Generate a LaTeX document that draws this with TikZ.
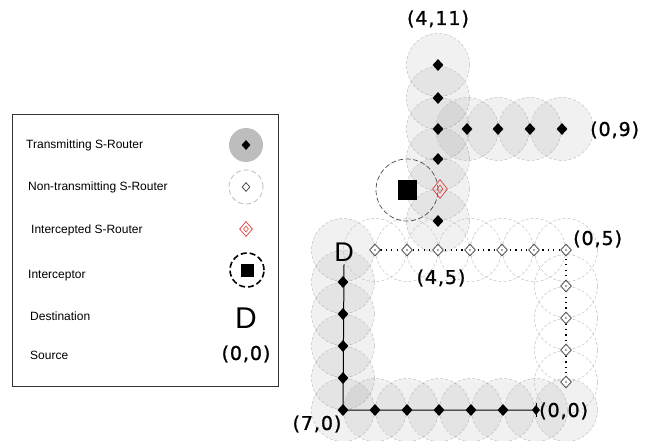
\documentclass[tikz,border=0pt]{standalone}
\usepackage{fontspec}
\setmainfont{Liberation Sans}
\newfontfamily\coordfont[LetterSpace=5,FakeBold=1.2]{DejaVu Sans}
\usetikzlibrary{shapes.geometric}

\definecolor{ringgray}{HTML}{C2C2C2}
\definecolor{interred}{HTML}{E03C3C}
\definecolor{legendgray}{HTML}{BDBDBD}

\pgfdeclarelayer{rings}
\pgfdeclarelayer{links}
\pgfsetlayers{rings,links,main}

\tikzset{
  cover/.style={circle, minimum size=63pt, inner sep=0pt, draw=ringgray,
    dash pattern=on 3pt off 2pt, line width=0.5pt},
  txcover/.style={cover, fill=black, fill opacity=0.055},
  idlecover/.style={cover},
  txrouter/.style={diamond, fill=black, inner sep=0pt, minimum width=11pt, minimum height=12pt},
  idlerouter/.style={diamond, draw=black!70, fill=white, line width=0.8pt, inner sep=0pt,
    minimum width=11pt, minimum height=12pt,
    path picture={\fill[black!70] (path picture bounding box.center) circle (0.8pt);}},
  hitrouter/.style={diamond, draw=interred, line width=0.7pt, inner sep=0pt,
    minimum width=15pt, minimum height=19pt},
  hitcore/.style={diamond, draw=interred, line width=0.6pt, inner sep=0pt,
    minimum width=6pt, minimum height=8pt},
  coordlabel/.style={font=\coordfont\fontsize{19}{21}\selectfont, inner sep=0pt},
  legendtext/.style={font=\fontsize{12}{14}\selectfont, anchor=west, inner sep=0pt},
  solidlink/.style={black, line width=1pt},
  dottedlink/.style={black, line width=1.2pt, dash pattern=on 1.2pt off 4.2pt}
}

\begin{document}
\begin{tikzpicture}[x=1pt,y=-1pt]
\useasboundingbox (0,0) rectangle (658,441);

% ---------- coverage rings ----------
\begin{pgfonlayer}{rings}
  % branch towards (4,11) and (0,9)
  \foreach \yy [count=\i] in {65,98,129,159,189,221}
    \node[txcover] (ra\i) at (438,\yy) {};
  \foreach \xx [count=\i] in {467,498,530,562}
    \node[txcover] (rb\i) at (\xx,129) {};
  % column through D and the bottom row
  \foreach \yy [count=\i] in {250,282,314,346,378,410}
    \node[txcover] (rc\i) at (343,\yy) {};
  \foreach \xx [count=\i] in {375,407,439,471,503,536,566}
    \node[txcover] (rd\i) at (\xx,410) {};
  % idle routers along y=5 and x=0
  \foreach \xx [count=\i] in {375,407,438,470,502,534,566}
    \node[idlecover] (re\i) at (\xx,250) {};
  \foreach \yy [count=\i] in {286,318,350,382}
    \node[idlecover] (rf\i) at (566,\yy) {};
  % interceptor range
  \node[circle, minimum size=62pt, inner sep=0pt, draw=black!70, line width=0.7pt,
        dash pattern=on 5pt off 2.5pt] (spyring) at (407,190) {};
\end{pgfonlayer}

% ---------- routers ----------
\foreach \yy [count=\i] in {65,98,129,159}
  \node[txrouter] (ta\i) at (438,\yy) {};
\node[hitrouter] (hit) at (440,189) {};
\node[hitcore] at (hit.center) {};
\node[txrouter] (ta6) at (438,221) {};
\foreach \xx [count=\i] in {467,498,530,562}
  \node[txrouter] (tb\i) at (\xx,129) {};

\node[font=\fontsize{27}{27}\selectfont, inner sep=0pt] (dest) at (344,252) {D};
\foreach \yy [count=\i] in {282,314,346,378,410}
  \node[txrouter] (tc\i) at (343,\yy) {};
\foreach \xx [count=\i] in {375,407,439,471,503}
  \node[txrouter] (td\i) at (\xx,410) {};
\node[diamond, fill=black, inner sep=0pt, minimum width=8pt, minimum height=10pt] (src) at (536,410) {};
\draw[black, line width=0.8pt] ([yshift=2pt]src.north) -- ([yshift=-2pt]src.south);

\foreach \xx [count=\i] in {375,407,438,470,502,534,566}
  \node[idlerouter] (ie\i) at (\xx,250) {};
\foreach \yy [count=\i] in {286,318,350,382}
  \node[idlerouter] (if\i) at (566,\yy) {};

% interceptor
\node[fill=black, minimum width=19pt, minimum height=20pt, inner sep=0pt] (spy) at (407,190) {};

% ---------- links ----------
\begin{pgfonlayer}{links}
  \draw[solidlink] ([yshift=-3pt]dest.south) -- (tc5.center) -- (src.center);
  \draw[dottedlink] (ie1.center) -- (ie7.center) -- (if4.center);
\end{pgfonlayer}

% ---------- coordinate labels ----------
\node[coordlabel] (l411) at (438,19) {(4,11)};
\node[coordlabel, anchor=west] (l09) at (590,130) {(0,9)};
\node[coordlabel, anchor=west] (l05) at (573,239) {(0,5)};
\node[coordlabel] (l45) at (441,278) {(4,5)};
\node[coordlabel] (l70) at (317,424) {(7,0)};
\node[coordlabel, anchor=west] (l00) at (539,411) {(0,0)};

% ---------- legend ----------
\node[draw=black!80, line width=0.8pt, minimum width=266pt, minimum height=272pt,
      inner sep=0pt] (legend) at (145,250) {};

\node[legendtext] (k1) at (26,145) {Transmitting S-Router};
\node[circle, fill=legendgray, minimum size=34pt, inner sep=0pt] (s1) at (246,145) {};
\node[txrouter, minimum width=9pt, minimum height=10pt] at (s1.center) {};

\node[legendtext] (k2) at (28,187) {Non-transmitting S-Router};
\node[circle, draw=ringgray, line width=0.9pt, dash pattern=on 5pt off 3pt,
      minimum size=34pt, inner sep=0pt] (s2) at (246,187) {};
\node[idlerouter, minimum width=8pt, minimum height=9pt,
      path picture={}] at (s2.center) {};

\node[legendtext] (k3) at (31,230) {Intercepted S-Router};
\node[hitrouter, minimum width=13pt, minimum height=15pt] (s3) at (246,229) {};
\node[hitcore, minimum width=5pt, minimum height=6pt] at (s3.center) {};

\node[legendtext] (k4) at (28,276) {Interceptor};
\node[circle, draw=black, line width=1.6pt, dash pattern=on 6pt off 3pt,
      minimum size=34pt, inner sep=0pt] (s4) at (247,270) {};
\node[fill=black, minimum width=13pt, minimum height=13pt, inner sep=0pt] at (s4.center) {};

\node[legendtext] (k5) at (30,316) {Destination};
\node[font=\fontsize{30}{30}\selectfont, inner sep=0pt] (s5) at (246,318) {D};

\node[legendtext] (k6) at (30,355) {Source};
\node[coordlabel] (s6) at (246,354) {(0,0)};
\end{tikzpicture}
\end{document}
